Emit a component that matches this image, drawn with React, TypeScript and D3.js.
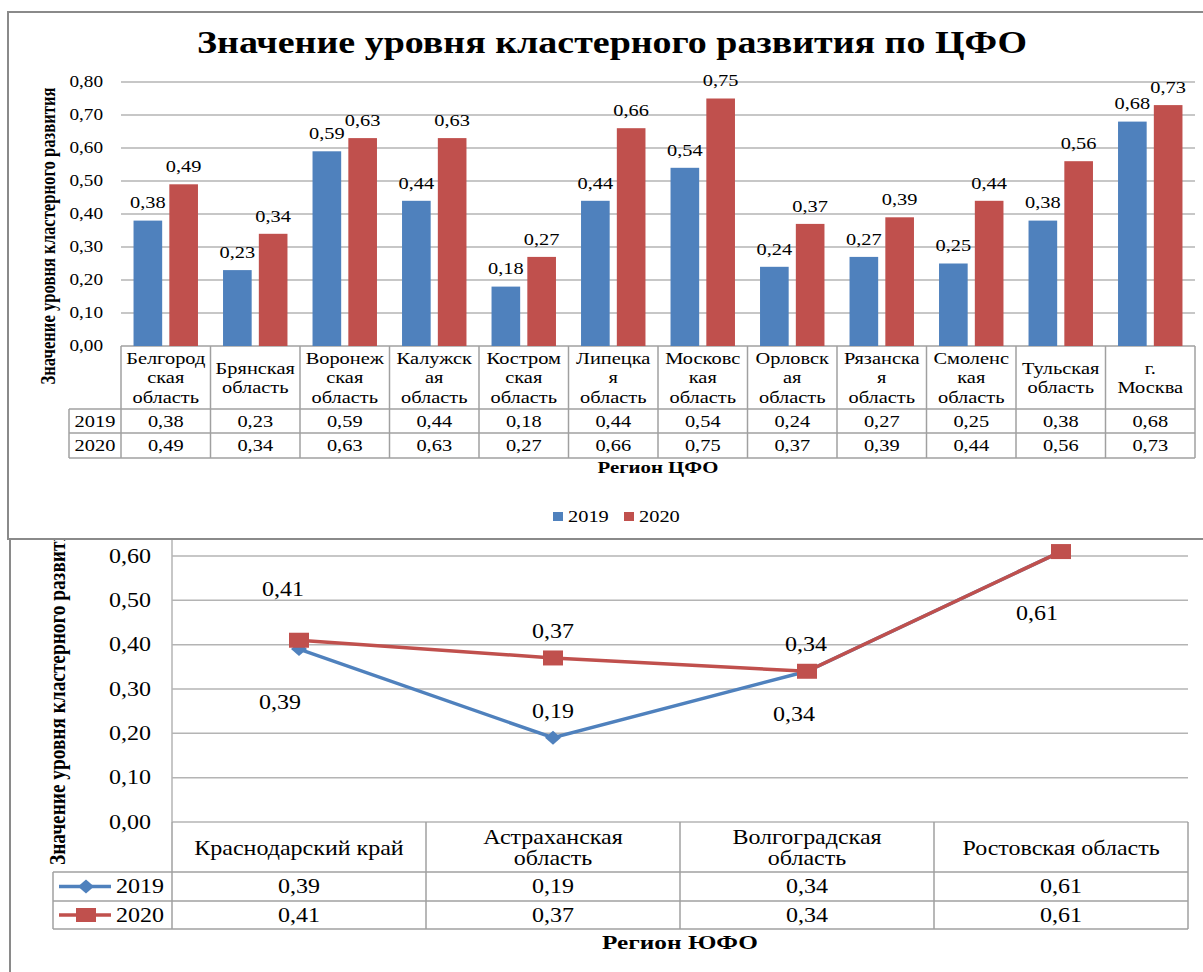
import React from "react";
import * as d3 from "d3";

// ЦФО (bar chart)
const cfoRegions = [
  "Белгород|ская|область",
  "Брянская|область",
  "Воронеж|ская|область",
  "Калужск|ая|область",
  "Костром|ская|область",
  "Липецка|я|область",
  "Московс|кая|область",
  "Орловск|ая|область",
  "Рязанска|я|область",
  "Смоленс|кая|область",
  "Тульская|область",
  "г.|Москва",
];
const cfo2019 = [0.38, 0.23, 0.59, 0.44, 0.18, 0.44, 0.54, 0.24, 0.27, 0.25, 0.38, 0.68];
const cfo2020 = [0.49, 0.34, 0.63, 0.63, 0.27, 0.66, 0.75, 0.37, 0.39, 0.44, 0.56, 0.73];
const cfoTicks = [0, 0.1, 0.2, 0.3, 0.4, 0.5, 0.6, 0.7, 0.8];

// ЮФО (line chart)
const ufoRegions = ["Краснодарский край", "Астраханская|область", "Волгоградская|область", "Ростовская область"];
const ufo2019 = [0.39, 0.19, 0.34, 0.61];
const ufo2020 = [0.41, 0.37, 0.34, 0.61];
const ufoTicks = [0, 0.1, 0.2, 0.3, 0.4, 0.5, 0.6];

const years = ["2019", "2020"];
const colors = ["#4f81bd", "#c0504d"];

// hand-placed label offsets in the line chart (dx, dy from the point)
const ufoLabelShift = [
  [[-19, 53], [0, -27], [-13, 43], [-24, 62]],
  [[-16, -51], [0, -27], [-1, -27], [-24, 62]],
];

const FONT = "'Liberation Serif', 'Times New Roman', serif";
const SX = 1.2; // the picture is stretched horizontally
const GRID = "#b4b4b4";
const TABLE = "#a0a0a0";
const fmt = (v: number) => d3.format(".2f")(v).replace(".", ",");

const T = ({ x, y, size, rot = 0, bold = false, anchor = "middle", w, children }: any) => (
  <text
    transform={`translate(${x},${y}) scale(${SX},1)${rot ? ` rotate(${rot})` : ""}`}
    style={{ fontFamily: FONT }}
    fontSize={size}
    fontWeight={bold ? "bold" : "normal"}
    textAnchor={anchor}
    dominantBaseline="central"
    fill="#000"
    textLength={w ? w / (rot ? 1 : SX) : undefined}
    lengthAdjust={w ? "spacingAndGlyphs" : undefined}
  >
    {children}
  </text>
);

const App = () => {
  // ---------- top chart scales
  const xC = d3.scaleBand<number>().domain(d3.range(cfoRegions.length)).range([121, 1195]);
  const xIn = d3.scaleBand().domain(years).range([0, xC.bandwidth()]).paddingInner(0.2).paddingOuter(0.35);
  const yC = d3.scaleLinear().domain([0, 0.8]).range([346, 82]);
  const cfoSeries = [cfo2019, cfo2020];
  const cHead = [346, 409];
  const cRows = [409, 433, 458];

  // ---------- bottom chart scales
  const xU = d3.scaleBand().domain(ufoRegions).range([172, 1188]);
  const yU = d3.scaleLinear().domain([0, 0.6]).range([822, 556]);
  const ufoSeries = [ufo2019, ufo2020];
  const px = (i: number) => xU(ufoRegions[i])! + xU.bandwidth() / 2;
  const line = d3
    .line<number>()
    .x((_, i) => px(i))
    .y((d) => yU(d));
  const uRows = [872, 901, 929];

  const diamond = (cx: number, cy: number) => `M${cx - 8},${cy} L${cx},${cy - 7} L${cx + 8},${cy} L${cx},${cy + 7} Z`;

  // labels of the second series that would sit exactly on the first one are not repeated
  const ufoLabels = ufoSeries.flatMap((s, k) =>
    s.map((v, i) => ({ k, i, v, x: px(i) + ufoLabelShift[k][i][0], y: yU(v) + ufoLabelShift[k][i][1] }))
  );
  const shownLabels = ufoLabels.filter(
    (a) => !ufoLabels.some((b) => b.k < a.k && b.i === a.i && b.v === a.v && b.x === a.x && b.y === a.y)
  );

  return (
    <svg width={1203} height={972} style={{ position: "absolute", left: 0, top: 0, background: "#fff" }}>
      {/* ===================== bottom chart (ЮФО), partly hidden ===================== */}
      <rect x={10} y={440} width={1240} height={560} fill="#fff" stroke="#8a8a8a" strokeWidth={2} />
      <T x={57} y={865} size={20} rot={-90} bold anchor="start" w={345}>
        Значение уровня кластерного развития
      </T>
      {ufoTicks.map((t) => (
        <g key={t}>
          <line x1={172} x2={1188} y1={yU(t)} y2={yU(t)} stroke={GRID} strokeWidth={1.5} />
          <T x={151} y={yU(t)} size={20} anchor="end">
            {fmt(t)}
          </T>
        </g>
      ))}
      <line x1={172} x2={172} y1={440} y2={822} stroke={GRID} strokeWidth={1.5} />

      {ufoSeries.map((s, k) => (
        <g key={k}>
          <path d={line(s)!} fill="none" stroke={colors[k]} strokeWidth={3.5} />
          {s.map((v, i) =>
            k === 0 ? (
              <path key={i} d={diamond(px(i), yU(v))} fill={colors[0]} />
            ) : (
              <rect key={i} x={px(i) - 10} y={yU(v) - 7.5} width={20} height={15} fill={colors[1]} />
            )
          )}
        </g>
      ))}
      {shownLabels.map((d) => (
        <T key={`${d.k}-${d.i}`} x={d.x} y={d.y} size={20}>
          {fmt(d.v)}
        </T>
      ))}

      {/* data table */}
      {ufoRegions.map((r, i) => {
        const x0 = xU(r)!;
        const lines = r.split("|");
        return (
          <g key={r}>
            <line x1={x0} x2={x0} y1={822} y2={929} stroke={TABLE} strokeWidth={1.5} />
            {lines.map((l, j) => (
              <T key={j} x={x0 + xU.bandwidth() / 2} y={848 + (j - (lines.length - 1) / 2) * 21} size={20}>
                {l}
              </T>
            ))}
            {ufoSeries.map((s, k) => (
              <T key={k} x={x0 + xU.bandwidth() / 2} y={(uRows[k] + uRows[k + 1]) / 2} size={20}>
                {fmt(s[i])}
              </T>
            ))}
          </g>
        );
      })}
      <line x1={1188} x2={1188} y1={822} y2={929} stroke={TABLE} strokeWidth={1.5} />
      <line x1={53} x2={53} y1={872} y2={929} stroke={TABLE} strokeWidth={1.5} />
      {uRows.map((y) => (
        <line key={y} x1={53} x2={1188} y1={y} y2={y} stroke={TABLE} strokeWidth={1.5} />
      ))}
      {years.map((yr, k) => {
        const cy = (uRows[k] + uRows[k + 1]) / 2;
        return (
          <g key={yr}>
            <line x1={59} x2={111} y1={cy} y2={cy} stroke={colors[k]} strokeWidth={3.5} />
            {k === 0 ? (
              <path d={diamond(86, cy)} fill={colors[0]} />
            ) : (
              <rect x={76} y={cy - 7} width={20} height={14} fill={colors[1]} />
            )}
            <T x={116} y={cy} size={20} anchor="start">
              {yr}
            </T>
          </g>
        );
      })}
      <T x={680} y={943} size={18} bold w={156}>
        Регион ЮФО
      </T>

      {/* ===================== top chart (ЦФО) ===================== */}
      <rect x={8} y={12} width={1230} height={527} fill="#fff" stroke="#8a8a8a" strokeWidth={2} />
      <T x={612} y={43} size={32} bold w={830}>
        Значение уровня кластерного развития по ЦФО
      </T>
      <T x={48} y={236} size={17} rot={-90} bold w={297}>
        Значение уровня кластерного развития
      </T>
      {cfoTicks.map((t) => (
        <g key={t}>
          <line x1={121} x2={1195} y1={yC(t)} y2={yC(t)} stroke={t === 0 ? TABLE : GRID} strokeWidth={1.5} />
          <T x={103} y={yC(t)} size={16} anchor="end">
            {fmt(t)}
          </T>
        </g>
      ))}

      {cfoRegions.map((_, i) => (
        <g key={i} transform={`translate(${xC(i)},0)`}>
          {cfoSeries.map((s, k) => (
            <rect
              key={k}
              x={xIn(years[k])}
              y={yC(s[i])}
              width={xIn.bandwidth()}
              height={yC(0) - yC(s[i])}
              fill={colors[k]}
            />
          ))}
        </g>
      ))}
      {cfoRegions.map((_, i) =>
        cfoSeries.map((s, k) => (
          <T key={`${i}-${k}`} x={xC(i)! + xIn(years[k])! + xIn.bandwidth() / 2} y={yC(s[i]) - 18} size={17}>
            {fmt(s[i])}
          </T>
        ))
      )}

      {/* data table */}
      {cfoRegions.map((r, i) => {
        const x0 = xC(i)!;
        const cx = x0 + xC.bandwidth() / 2;
        const lines = r.split("|");
        return (
          <g key={r}>
            <line x1={x0} x2={x0} y1={cHead[0]} y2={458} stroke={TABLE} strokeWidth={1.5} />
            {lines.map((l, j) => (
              <T key={j} x={cx} y={(cHead[0] + cHead[1]) / 2 + (j - (lines.length - 1) / 2) * 19.5} size={17}>
                {l}
              </T>
            ))}
            {cfoSeries.map((s, k) => (
              <T key={k} x={cx} y={(cRows[k] + cRows[k + 1]) / 2} size={17}>
                {fmt(s[i])}
              </T>
            ))}
          </g>
        );
      })}
      <line x1={1195} x2={1195} y1={346} y2={458} stroke={TABLE} strokeWidth={1.5} />
      <line x1={69} x2={69} y1={409} y2={458} stroke={TABLE} strokeWidth={1.5} />
      {cRows.map((y) => (
        <line key={y} x1={69} x2={1195} y1={y} y2={y} stroke={TABLE} strokeWidth={1.5} />
      ))}
      {years.map((yr, k) => (
        <T key={yr} x={95} y={(cRows[k] + cRows[k + 1]) / 2} size={17}>
          {yr}
        </T>
      ))}
      <T x={658} y={468} size={16} bold w={121}>
        Регион ЦФО
      </T>

      {/* legend */}
      {years.map((yr, k) => (
        <g key={yr} transform={`translate(${553 + k * 71},516)`}>
          <rect x={0} y={-4} width={10} height={9} fill={colors[k]} />
          <T x={15} y={0} size={17} anchor="start">
            {yr}
          </T>
        </g>
      ))}
    </svg>
  );
};

export default App;
